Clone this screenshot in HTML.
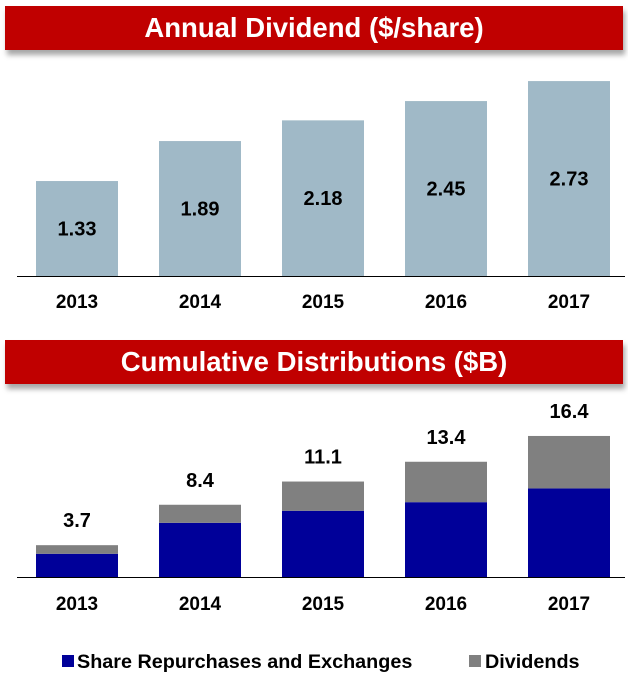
<!DOCTYPE html>
<html><head><meta charset="utf-8"><style>
body{margin:0;width:628px;height:674px;background:#fff;font-family:"Liberation Sans",Arial,sans-serif;overflow:hidden;position:relative}
.banner{position:absolute;left:5px;width:618px;height:44px;background:#c00000;color:#fff;font-weight:bold;font-size:27.5px;text-align:center;line-height:44px;box-shadow:2px 5px 5px rgba(0,0,0,0.35)}
svg{position:absolute;left:0;top:0}
</style></head><body>
<div class="banner" style="top:6px">Annual Dividend ($/share)</div>
<div class="banner" style="top:340px">Cumulative Distributions ($B)</div>
<svg id="c" width="628" height="674"></svg>
<script>
const years=["2013","2014","2015","2016","2017"];
const dividendPerShare=[1.33,1.89,2.18,2.45,2.73];
const repurchases=[2.7,6.3,7.7,8.7,10.3];
const dividends=[1.0,2.1,3.4,4.7,6.1];
const totals=["3.7","8.4","11.1","13.4","16.4"];
const NS="http://www.w3.org/2000/svg";
const svg=document.getElementById('c');
function mk(t,a,txt){const e=document.createElementNS(NS,t);for(const k in a)e.setAttribute(k,a[k]);if(txt!==undefined)e.textContent=txt;svg.appendChild(e);return e;}
function xPos(i){return 36+i*123;}
const bw=82;
function y1(v){return 276-v*71.4;}
function y2(v){return 577-v*8.6;}
years.forEach((yr,i)=>{
  const r=mk('rect',{x:xPos(i),y:y1(dividendPerShare[i]),width:bw,height:276-y1(dividendPerShare[i]),fill:'#a0b9c7'});
  
  
  const t=mk('text',{x:xPos(i)+bw/2,y:(y1(dividendPerShare[i])+276)/2+7,'text-anchor':'middle','font-size':20,'font-weight':'bold',fill:'#000'},dividendPerShare[i].toFixed(2));
  
  
  const l=mk('text',{x:xPos(i)+bw/2,y:308,'text-anchor':'middle','font-size':19,'font-weight':'bold'},yr);
  
  
});
const ax1=mk('line',{x1:17,x2:625,y1:276.5,y2:276.5,stroke:'#000','stroke-width':1});


years.forEach((yr,i)=>{
  const b=mk('rect',{x:xPos(i),y:y2(repurchases[i]),width:bw,height:577-y2(repurchases[i]),fill:'#000099'});
  
  
  const top=y2(repurchases[i]+dividends[i]);
  const g=mk('rect',{x:xPos(i),y:top,width:bw,height:y2(repurchases[i])-top,fill:'#808080'});
  
  
  const t=mk('text',{x:xPos(i)+bw/2,y:top-18,'text-anchor':'middle','font-size':20,'font-weight':'bold'},totals[i]);
  
  
  const l=mk('text',{x:xPos(i)+bw/2,y:610,'text-anchor':'middle','font-size':19,'font-weight':'bold'},yr);
  
  
});
const ax2=mk('line',{x1:17,x2:625,y1:577.5,y2:577.5,stroke:'#000','stroke-width':1});


const s1=mk('rect',{x:62,y:655,width:12,height:12,fill:'#000099'});


const t1=mk('text',{x:77,y:668,'font-size':19.8,'font-weight':'bold'},'Share Repurchases and Exchanges');


const s2=mk('rect',{x:469,y:655,width:12,height:12,fill:'#808080'});


const t2=mk('text',{x:485,y:668,'font-size':19.8,'font-weight':'bold'},'Dividends');


</script>
</body></html>
